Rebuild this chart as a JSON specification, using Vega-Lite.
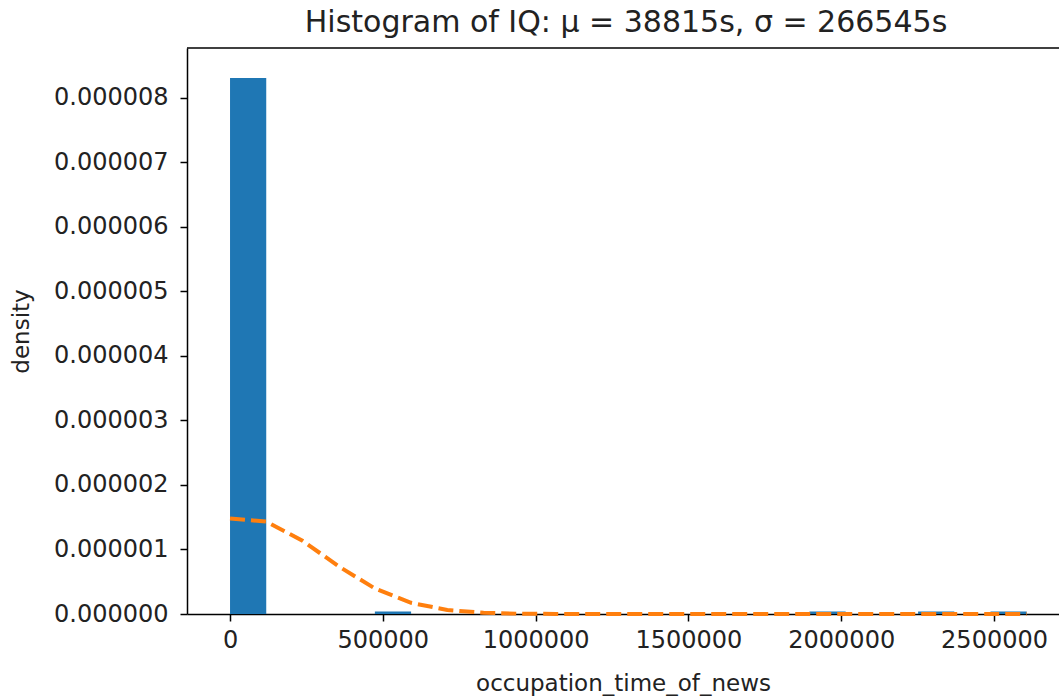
{
  "$schema": "https://vega.github.io/schema/vega-lite/v6.json",
  "autosize": "none",
  "width": 872,
  "height": 566,
  "padding": {"left": 187, "top": 48, "right": 0, "bottom": 86},
  "background": "white",
  "config": {
    "font": "DejaVu Sans",
    "view": {"stroke": null},
    "axis": {"grid": false, "domainColor": "#000", "tickColor": "#000", "domainWidth": 1.5, "tickWidth": 1.5, "tickSize": 7, "labelFontSize": 24, "labelColor": "#222", "titleFontSize": 23, "titleFontWeight": "normal", "titleColor": "#222", "labelPadding": 6}
  },
  "title": {"text": "Histogram of IQ: μ = 38815s, σ = 266545s", "fontSize": 30, "fontWeight": "normal", "color": "#222", "anchor": "middle", "dx": 3, "offset": 9},
  "datasets": {
    "bars": [
      {"x0": 0, "x1": 118500, "density": 0.000008307},
      {"x0": 474000, "x1": 592500, "density": 0.0000000384},
      {"x0": 1896000, "x1": 2014500, "density": 0.0000000384},
      {"x0": 2251500, "x1": 2370000, "density": 0.0000000384},
      {"x0": 2488500, "x1": 2607000, "density": 0.0000000384}
    ],
    "curve": [
      {"x": 0, "pdf": 0.0000014809},
      {"x": 118500, "pdf": 0.0000014313},
      {"x": 237000, "pdf": 0.0000011353},
      {"x": 355500, "pdf": 0.0000007389},
      {"x": 474000, "pdf": 0.0000003947},
      {"x": 592500, "pdf": 0.000000173},
      {"x": 711000, "pdf": 0.0000000622},
      {"x": 829500, "pdf": 0.0000000184},
      {"x": 948000, "pdf": 0.00000000445},
      {"x": 1066500, "pdf": 0.00000000089},
      {"x": 1185000, "pdf": 0.00000000014},
      {"x": 1303500, "pdf": 0},
      {"x": 1422000, "pdf": 0},
      {"x": 1540500, "pdf": 0},
      {"x": 1659000, "pdf": 0},
      {"x": 1777500, "pdf": 0},
      {"x": 1896000, "pdf": 0},
      {"x": 2014500, "pdf": 0},
      {"x": 2133000, "pdf": 0},
      {"x": 2251500, "pdf": 0},
      {"x": 2370000, "pdf": 0},
      {"x": 2488500, "pdf": 0},
      {"x": 2607000, "pdf": 0}
    ],
    "top": [{"y": 0.00000877}]
  },
  "layer": [
    {
      "data": {"name": "bars"},
      "mark": {"type": "rect", "color": "#1f77b4"},
      "encoding": {
        "x": {"field": "x0", "type": "quantitative", "scale": {"domain": [-140800, 2712600], "nice": false, "zero": false},
          "axis": {"values": [0, 500000, 1000000, 1500000, 2000000, 2500000], "format": "d", "title": "occupation_time_of_news", "titlePadding": 20, "labelPadding": 7}},
        "x2": {"field": "x1"},
        "y": {"field": "density", "type": "quantitative", "scale": {"domain": [0, 0.00000877], "nice": false},
          "axis": {"values": [0, 0.000001, 0.000002, 0.000003, 0.000004, 0.000005, 0.000006, 0.000007, 0.000008], "format": ".6f", "title": "density", "titlePadding": 20, "labelPadding": 12}},
        "y2": {"datum": 0}
      }
    },
    {
      "data": {"name": "curve"},
      "mark": {"type": "line", "color": "#ff7f0e", "strokeWidth": 4, "strokeDash": [15, 6]},
      "encoding": {
        "x": {"field": "x", "type": "quantitative"},
        "y": {"field": "pdf", "type": "quantitative"}
      }
    },
    {
      "data": {"name": "top"},
      "mark": {"type": "rule", "color": "#000", "strokeWidth": 1.5},
      "encoding": {
        "y": {"field": "y", "type": "quantitative"}
      }
    }
  ]
}
